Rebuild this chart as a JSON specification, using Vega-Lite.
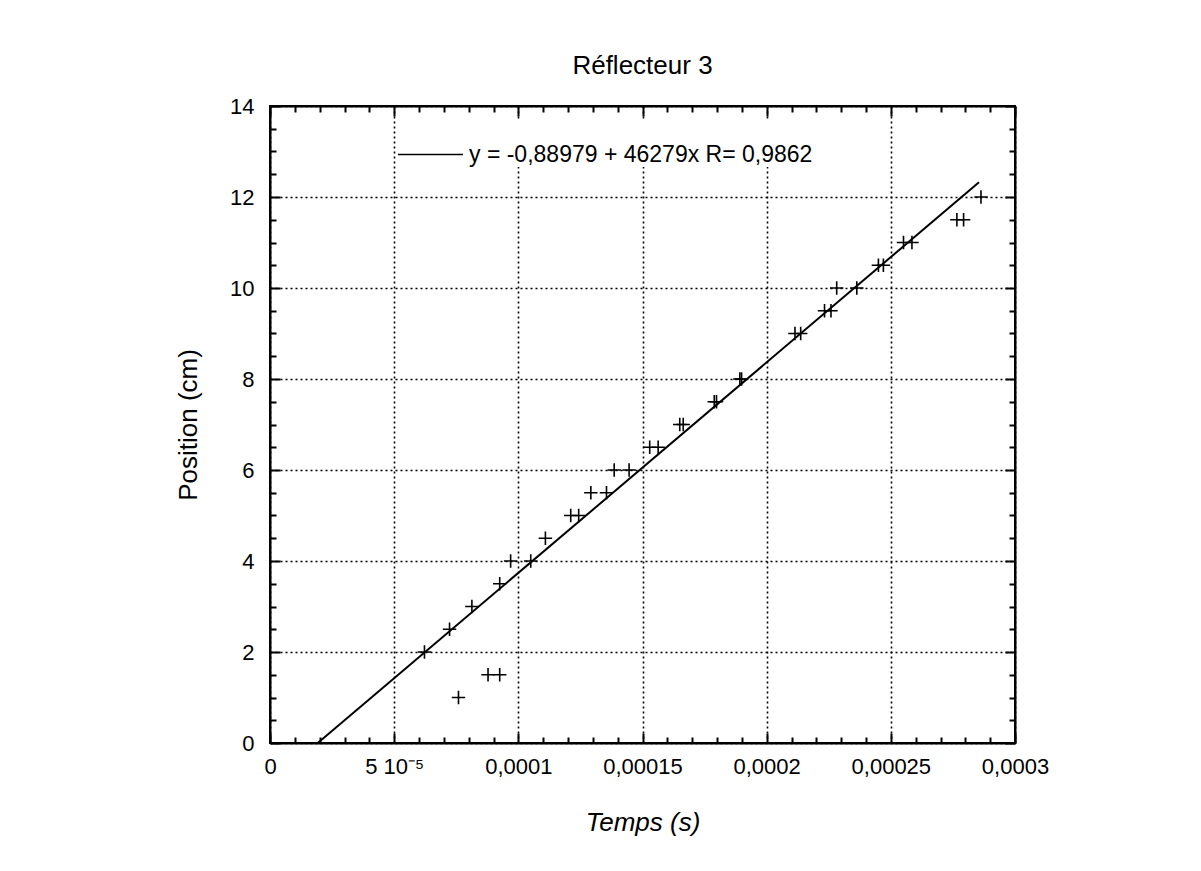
{
  "$schema": "https://vega.github.io/schema/vega-lite/v6.json",
  "autosize": {"type": "none"},
  "padding": {"left": 270, "top": 106, "right": 186, "bottom": 128},
  "width": 745,
  "height": 637,
  "background": "white",
  "title": {"text": "Réflecteur 3", "font": "Liberation Sans", "fontSize": 26, "fontWeight": "normal", "color": "black", "offset": 16, "anchor": "middle"},
  "config": {
    "view": {"stroke": "black", "strokeWidth": 2},
    "axis": {
      "domainColor": "black", "domainWidth": 2,
      "tickColor": "black", "tickWidth": 2,
      "labelFont": "Liberation Sans", "labelFontSize": 22, "labelColor": "black",
      "titleFont": "Liberation Sans", "titleFontSize": 26, "titleFontWeight": "normal", "titleColor": "black",
      "gridColor": "black", "gridDash": [2, 3], "gridWidth": 1.6
    }
  },
  "datasets": {
    "mesures": [
      {"temps": 0.0000622, "position": 2},
      {"temps": 0.0000723, "position": 2.5},
      {"temps": 0.0000813, "position": 3},
      {"temps": 0.0000925, "position": 3.5},
      {"temps": 0.0000969, "position": 4},
      {"temps": 0.000105, "position": 4},
      {"temps": 0.0001109, "position": 4.5},
      {"temps": 0.0000759, "position": 1},
      {"temps": 0.0000878, "position": 1.5},
      {"temps": 0.0000925, "position": 1.5},
      {"temps": 0.0001211, "position": 5},
      {"temps": 0.0001243, "position": 5},
      {"temps": 0.0001292, "position": 5.5},
      {"temps": 0.0001355, "position": 5.5},
      {"temps": 0.0001386, "position": 6},
      {"temps": 0.0001446, "position": 6},
      {"temps": 0.0001529, "position": 6.5},
      {"temps": 0.0001563, "position": 6.5},
      {"temps": 0.000165, "position": 7},
      {"temps": 0.0001664, "position": 7},
      {"temps": 0.0001789, "position": 7.5},
      {"temps": 0.0001798, "position": 7.5},
      {"temps": 0.0001892, "position": 8},
      {"temps": 0.0001899, "position": 8},
      {"temps": 0.0002114, "position": 9},
      {"temps": 0.0002137, "position": 9},
      {"temps": 0.0002233, "position": 9.5},
      {"temps": 0.0002259, "position": 9.5},
      {"temps": 0.0002282, "position": 10},
      {"temps": 0.0002363, "position": 10},
      {"temps": 0.000245, "position": 10.5},
      {"temps": 0.000247, "position": 10.5},
      {"temps": 0.0002551, "position": 11},
      {"temps": 0.0002585, "position": 11},
      {"temps": 0.0002766, "position": 11.5},
      {"temps": 0.0002793, "position": 11.5},
      {"temps": 0.0002863, "position": 12}
    ],
    "ajustement": [
      {"temps": 0.000019227, "position": 0},
      {"temps": 0.0002855, "position": 12.323}
    ]
  },
  "resolve": {"axis": {"x": "independent", "y": "independent"}},
  "layer": [
    {
      "data": {"name": "mesures"},
      "mark": {"type": "point", "shape": "M-1,0H1M0,-1V1", "filled": false, "stroke": "black", "strokeWidth": 1.6, "size": 180, "opacity": 1},
      "encoding": {
        "x": {
          "field": "temps", "type": "quantitative",
          "scale": {"domain": [0, 0.0003], "nice": false, "zero": true},
          "axis": {
            "orient": "bottom", "title": "Temps (s)", "titleFontStyle": "italic", "titlePadding": 28,
            "titleFontSize": 26,
            "values": [0,0.00001,0.00002,0.00003,0.00004,0.00005,0.00006,0.00007,0.00008,0.00009,0.0001,0.00011,0.00012,0.00013,0.00014,0.00015,0.00016,0.00017,0.00018,0.00019,0.0002,0.00021,0.00022,0.00023,0.00024,0.00025,0.00026,0.00027,0.00028,0.00029,0.0003],
            "grid": true,
            "gridOpacity": {"condition": {"test": "round(datum.value*1e5) % 5 == 0", "value": 1}, "value": 0},
            "tickSize": {"condition": {"test": "round(datum.value*1e5) % 5 == 0", "value": -10}, "value": -6},
            "labelPadding": 23, "labelFontSize": 22,
            "labelExpr": "round(datum.value*1e5)==0 ? '0' : round(datum.value*1e5)==5 ? '5 10⁻⁵' : round(datum.value*1e5)==10 ? '0,0001' : round(datum.value*1e5)==15 ? '0,00015' : round(datum.value*1e5)==20 ? '0,0002' : round(datum.value*1e5)==25 ? '0,00025' : round(datum.value*1e5)==30 ? '0,0003' : ''",
            "labelFlush": false, "labelOverlap": false
          }
        },
        "y": {
          "field": "position", "type": "quantitative",
          "scale": {"domain": [0, 14], "nice": false},
          "axis": {
            "orient": "left", "title": "Position (cm)", "titlePadding": 28, "titleFontSize": 26,
            "values": [0,0.5,1,1.5,2,2.5,3,3.5,4,4.5,5,5.5,6,6.5,7,7.5,8,8.5,9,9.5,10,10.5,11,11.5,12,12.5,13,13.5,14],
            "grid": true,
            "gridOpacity": {"condition": {"test": "datum.value % 2 == 0", "value": 1}, "value": 0},
            "tickSize": {"condition": {"test": "datum.value % 2 == 0", "value": -10}, "value": -6},
            "labelPadding": 26, "labelFontSize": 22,
            "labelExpr": "datum.value % 2 == 0 ? toString(datum.value) : ''",
            "labelFlush": false, "labelOverlap": false
          }
        }
      }
    },
    {
      "data": {"name": "ajustement"},
      "mark": {"type": "line", "strokeWidth": 2, "clip": false},
      "encoding": {
        "x": {
          "field": "temps", "type": "quantitative",
          "axis": {
            "orient": "top", "title": null, "labels": false, "grid": false, "domain": true,
            "values": [0,0.00001,0.00002,0.00003,0.00004,0.00005,0.00006,0.00007,0.00008,0.00009,0.0001,0.00011,0.00012,0.00013,0.00014,0.00015,0.00016,0.00017,0.00018,0.00019,0.0002,0.00021,0.00022,0.00023,0.00024,0.00025,0.00026,0.00027,0.00028,0.00029,0.0003],
            "tickSize": {"condition": {"test": "round(datum.value*1e5) % 5 == 0", "value": -10}, "value": -6}
          }
        },
        "y": {
          "field": "position", "type": "quantitative",
          "axis": {
            "orient": "right", "title": null, "labels": false, "grid": false, "domain": true,
            "values": [0,0.5,1,1.5,2,2.5,3,3.5,4,4.5,5,5.5,6,6.5,7,7.5,8,8.5,9,9.5,10,10.5,11,11.5,12,12.5,13,13.5,14],
            "tickSize": {"condition": {"test": "datum.value % 2 == 0", "value": -10}, "value": -6}
          }
        },
        "color": {
          "datum": "y = -0,88979 + 46279x R= 0,9862", "type": "nominal",
          "scale": {"range": ["black"]},
          "legend": {
            "title": null, "orient": "none", "legendX": 127, "legendY": 15,
            "symbolType": "stroke", "symbolSize": 4225, "symbolStrokeWidth": 1.5, "symbolStrokeColor": "black",
            "labelFont": "Liberation Sans", "labelFontSize": 23, "labelColor": "black", "labelOffset": 5, "labelLimit": 600,
            "padding": 0, "fillColor": "white"
          }
        }
      }
    }
  ]
}
